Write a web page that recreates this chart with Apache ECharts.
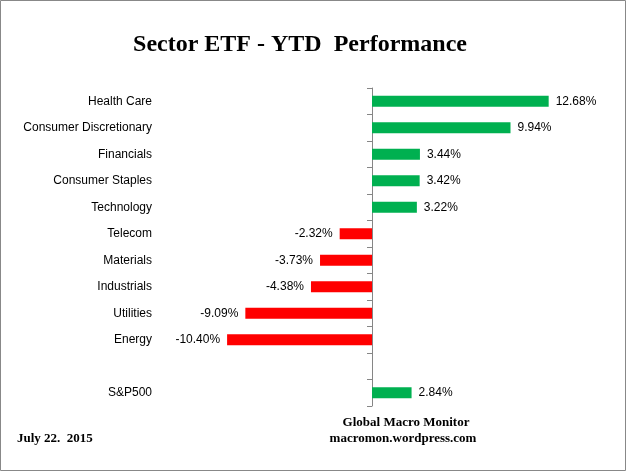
<!DOCTYPE html>
<html>
<head>
<meta charset="utf-8">
<script src="https://cdn.jsdelivr.net/npm/echarts@6/dist/echarts.min.js"></script>
<style>
html,body{margin:0;padding:0;background:#fff;}
#chart{width:626px;height:471px;}
</style>
</head>
<body>
<div id="chart"></div>
<script>
var categories = ['Health Care','Consumer Discretionary','Financials','Consumer Staples','Technology','Telecom','Materials','Industrials','Utilities','Energy','','S&P500'];
var values = [12.68, 9.94, 3.44, 3.42, 3.22, -2.32, -3.73, -4.38, -9.09, -10.40, null, 2.84];
var titleText = 'Sector ETF - YTD  Performance';
var dateText = 'July 22.  2015';
var sourceLines = ['Global Macro Monitor', 'macromon.wordpress.com'];

var chart = echarts.init(document.getElementById('chart'), null, {renderer:'canvas'});
var labelFont = 'Liberation Sans, Arial, sans-serif';
var serif = 'Liberation Serif, Times New Roman, serif';

chart.setOption({
  animation: false,
  backgroundColor: '#fff',
  grid: {left: 163, right: 45, top: 88, bottom: 65, containLabel: false},
  xAxis: {
    type: 'value', min: -15, max: 15, show: false
  },
  yAxis: [{
    type: 'category', data: categories, inverse: true, position: 'left',
    axisLine: {show: false, onZero: false}, axisTick: {show: false},
    axisLabel: {fontFamily: labelFont, fontSize: 12, color: '#000', margin: 11}
  }, {
    type: 'category', data: categories, inverse: true, position: 'left',
    axisLine: {show: true, onZero: true, lineStyle: {color: '#868686', width: 1}},
    axisTick: {show: true, inside: false, length: 5, alignWithLabel: false, lineStyle: {color: '#868686'}},
    axisLabel: {show: false}
  }],
  series: [{
    type: 'bar',
    yAxisIndex: 0,
    barWidth: 11,
    data: values.map(function(v){
      return {value: v, itemStyle: {color: v >= 0 ? '#00B050' : '#FF0000'},
              label: {position: v >= 0 ? 'right' : 'left'}};
    }),
    label: {
      show: true,
      distance: 7,
      fontFamily: labelFont, fontSize: 12, color: '#000',
      formatter: function(p){ return p.value == null ? '' : p.value.toFixed(2) + '%'; }
    }
  }],
  graphic: [
    {type: 'rect', shape: {x: 0.5, y: 0.5, width: 625, height: 470}, style: {fill: 'none', stroke: '#888', lineWidth: 1}, silent: true},
    {type: 'text', x: 300, y: 45, style: {text: titleText, fontFamily: serif, fontWeight: 'bold', fontSize: 24, fill: '#000', textAlign: 'center', textVerticalAlign: 'middle'}},
    {type: 'text', x: 17, y: 439, style: {text: dateText, fontFamily: serif, fontWeight: 'bold', fontSize: 13, fill: '#000', textAlign: 'left', textVerticalAlign: 'middle'}},
    {type: 'text', x: 406, y: 423, style: {text: sourceLines[0], fontFamily: serif, fontWeight: 'bold', fontSize: 13, fill: '#000', textAlign: 'center', textVerticalAlign: 'middle'}},
    {type: 'text', x: 403, y: 439, style: {text: sourceLines[1], fontFamily: serif, fontWeight: 'bold', fontSize: 13, fill: '#000', textAlign: 'center', textVerticalAlign: 'middle'}}
  ]
});
</script>
</body>
</html>
